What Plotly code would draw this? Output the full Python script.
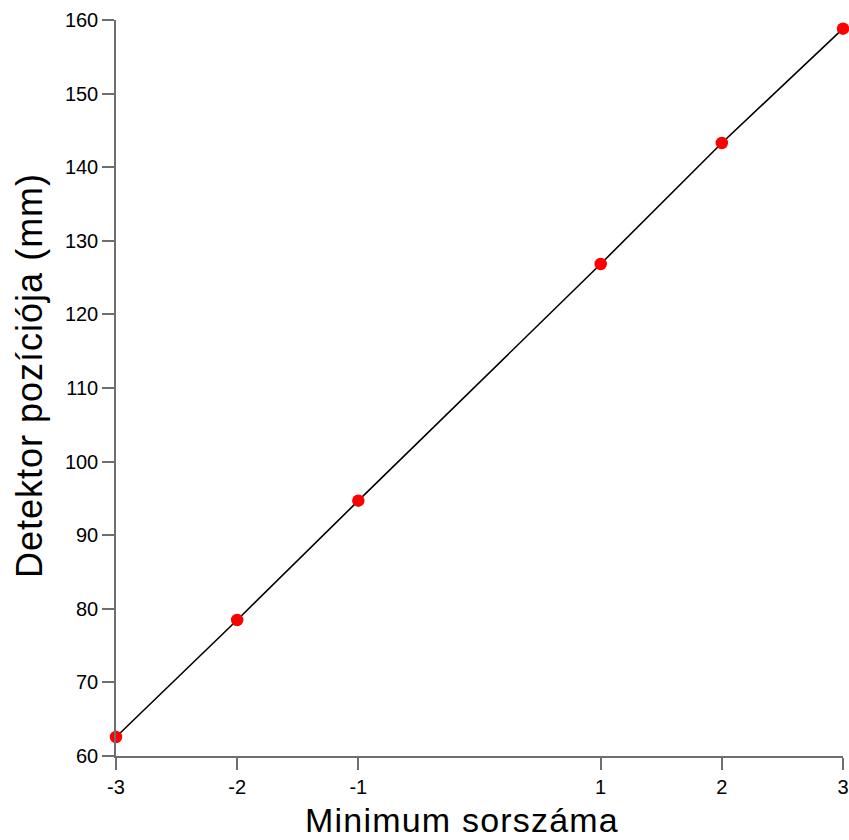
import plotly.graph_objects as go

# Minimum order number vs. detector position
min_order = [-3, -2, -1, 1, 2, 3]
detector_pos_mm = [62.58, 78.48, 94.69, 126.85, 143.29, 158.82]

x_ticks = [-3, -2, -1, 1, 2, 3]
y_ticks = [60, 70, 80, 90, 100, 110, 120, 130, 140, 150, 160]

x_title = "Minimum sorszáma"
y_title = "Detektor pozíciója (mm)"

axis_color = "#6e6e6e"
font_family = "Arial, Liberation Sans, sans-serif"


def spaced(text, px):
    return f'<span style="letter-spacing:{px}px">{text}</span>'


fig = go.Figure()

fig.add_trace(go.Scatter(
    x=min_order,
    y=detector_pos_mm,
    mode="lines+markers",
    line=dict(color="black", width=1.6),
    marker=dict(color="#ff0000", size=12.5),
    cliponaxis=False,
    showlegend=False,
))

fig.update_layout(
    width=849,
    height=840,
    margin=dict(l=116, r=6, t=20, b=84),
    paper_bgcolor="white",
    plot_bgcolor="white",
    font=dict(family=font_family, color="black"),
)

common = dict(
    ticks="outside",
    ticklen=12,
    tickwidth=1.5,
    tickcolor=axis_color,
    showline=True,
    linecolor=axis_color,
    linewidth=1.5,
    showgrid=False,
    zeroline=False,
    automargin=False,
    tickfont=dict(size=20, family=font_family),
)

fig.update_xaxes(range=[-3, 3], tickvals=x_ticks,
                 ticktext=[str(v) for v in x_ticks], **common)
fig.update_yaxes(range=[60, 160], tickvals=y_ticks, **common)

# Axis titles
fig.add_annotation(
    text=spaced(x_title, 1.2),
    xref="paper", yref="paper",
    x=(462 - 116) / (843 - 116), y=0,
    xanchor="center", yanchor="top",
    yshift=-43,
    showarrow=False,
    font=dict(size=34, family=font_family, color="black"),
)
fig.add_annotation(
    text=spaced(y_title, 1.0),
    xref="paper", yref="paper",
    x=0, y=(756 - 376) / (756 - 20),
    xanchor="center", yanchor="middle",
    xshift=-87,
    textangle=-90,
    showarrow=False,
    font=dict(size=36, family=font_family, color="black"),
)

fig.write_html("out.html")
